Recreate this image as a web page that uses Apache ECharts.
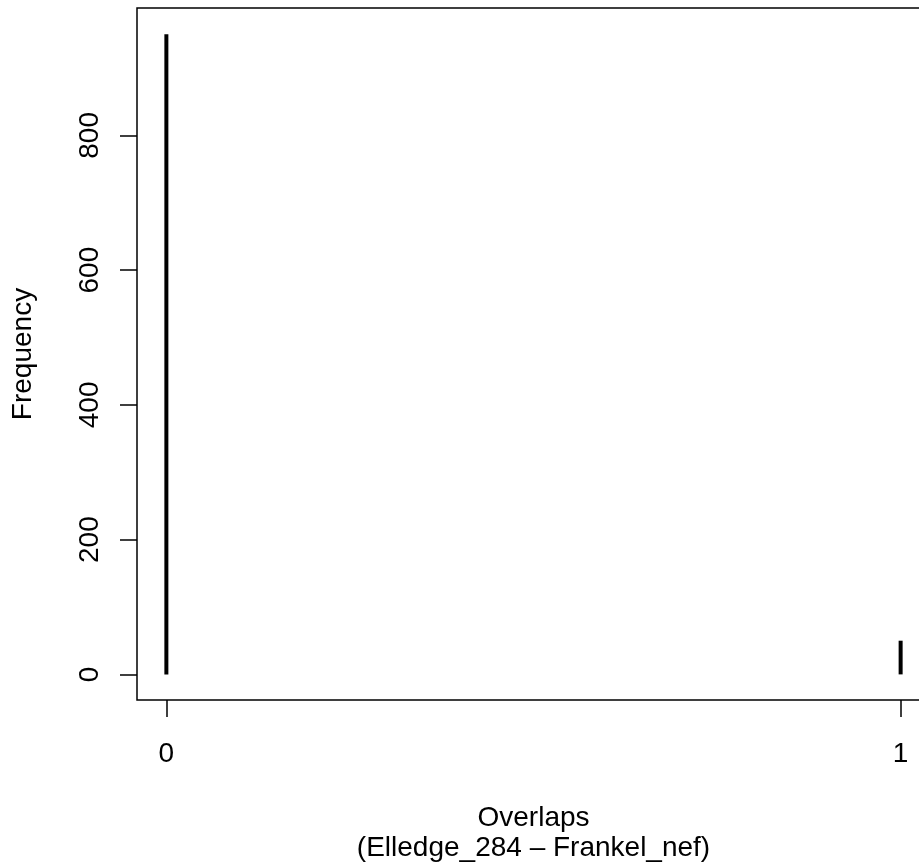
<!DOCTYPE html>
<html>
<head>
<meta charset="utf-8">
<script src="https://cdn.jsdelivr.net/npm/echarts@6/dist/echarts.min.js"></script>
<style>html,body{margin:0;padding:0;background:#fff;}#c{width:919px;height:867px;}</style>
</head>
<body>
<div id="c"></div>
<script>
const categories = [0, 1];
const frequencies = [950, 50];
const yTicks = [0, 200, 400, 600, 800];
const xTicks = [0, 1];
const xTitle = 'Overlaps\n(Elledge_284 \u2013 Frankel_nef)';
const yTitle = 'Frequency';

const font = 'Liberation Sans, Arial, sans-serif';
const chart = echarts.init(document.getElementById('c'), null, {renderer: 'canvas'});
chart.setOption({
  animation: false,
  backgroundColor: '#ffffff',
  grid: {
    left: 137, top: 8, width: 793, height: 692,
    show: true, borderColor: '#000', borderWidth: 1.5,
    outerBoundsMode: 'none', containLabel: false
  },
  xAxis: {
    type: 'value', min: -0.04, max: 1.04,
    splitLine: {show: false},
    axisLine: {show: false, onZero: false},
    axisTick: {show: true, customValues: xTicks, length: 17, lineStyle: {color: '#000', width: 1.5}},
    axisLabel: {customValues: xTicks, color: '#000', fontSize: 28, fontFamily: font, margin: 40},
    name: xTitle, nameLocation: 'middle', nameGap: 103, nameMoveOverlap: false,
    nameTextStyle: {color: '#000', fontSize: 28, fontFamily: font, lineHeight: 30}
  },
  yAxis: {
    type: 'value', min: -38, max: 989,
    splitLine: {show: false},
    axisLine: {show: false, onZero: false},
    axisTick: {show: true, customValues: yTicks, length: 17, lineStyle: {color: '#000', width: 1.5}},
    axisLabel: {customValues: yTicks, rotate: 90, color: '#000', fontSize: 28, fontFamily: font, margin: 33},
    name: yTitle, nameLocation: 'middle', nameGap: 99, nameRotate: 90, nameMoveOverlap: false,
    nameTextStyle: {color: '#000', fontSize: 28, fontFamily: font, lineHeight: 30}
  },
  series: [{
    type: 'bar',
    barWidth: 4,
    itemStyle: {color: '#000'},
    data: categories.map((c, i) => [c, frequencies[i]])
  }]
});
</script>
</body>
</html>
